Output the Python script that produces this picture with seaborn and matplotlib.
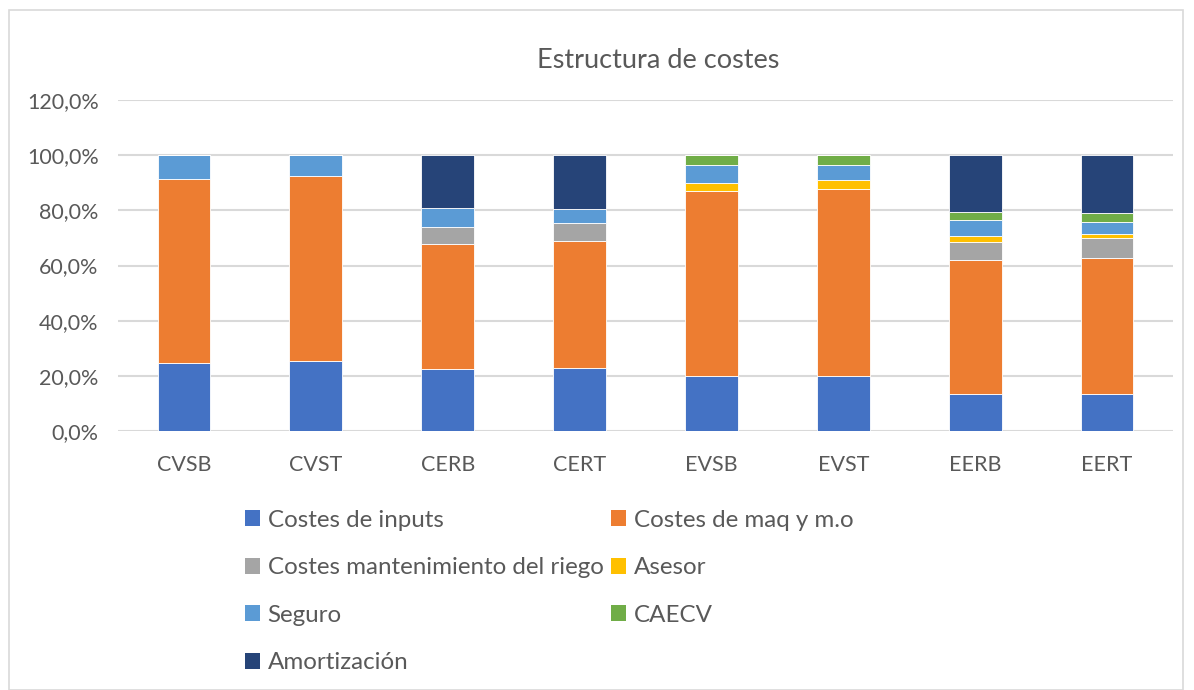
import pandas as pd
import seaborn as sns
import matplotlib.pyplot as plt
from matplotlib.patches import Patch, Rectangle
from matplotlib.ticker import FuncFormatter

categories = ["CVSB", "CVST", "CERB", "CERT", "EVSB", "EVST", "EERB", "EERT"]

costes_inputs = [24.8, 25.2, 22.4, 22.8, 19.9, 20.1, 13.5, 13.5]
costes_maq = [66.4, 67.2, 45.4, 46.1, 67.0, 67.8, 48.4, 49.3]
costes_mant = [0.0, 0.0, 6.3, 6.5, 0.0, 0.0, 6.7, 7.0]
asesor = [0.0, 0.0, 0.0, 0.0, 3.1, 3.2, 2.0, 1.8]
seguro = [8.8, 7.6, 6.9, 5.2, 6.3, 5.2, 5.9, 4.2]
caecv = [0.0, 0.0, 0.0, 0.0, 3.7, 3.7, 2.8, 3.1]
amortizacion = [0.0, 0.0, 19.0, 19.4, 0.0, 0.0, 20.7, 21.1]

series_names = ["Costes de inputs", "Costes de maq y m.o", "Costes mantenimiento del riego",
                "Asesor", "Seguro", "CAECV", "Amortización"]
series_values = [costes_inputs, costes_maq, costes_mant, asesor, seguro, caecv, amortizacion]
colors = ["#4472C4", "#ED7D31", "#A5A5A5", "#FFC000", "#5B9BD5", "#70AD47", "#264478"]

text_color = "#595959"

sns.set_theme(style="white")
plt.rcParams["font.family"] = ["Lato", "DejaVu Sans"]

fig = plt.figure(figsize=(11.94, 6.9), dpi=100)
ax = fig.add_axes([118 / 1194, 1 - 431 / 690, 1055 / 1194, 331 / 690])

# stacked bars, one seaborn call per component
bottom = [0.0] * len(categories)
for name, vals, col in zip(series_names, series_values, colors):
    df = pd.DataFrame({"categoria": categories, "valor": vals})
    sns.barplot(data=df, x="categoria", y="valor", color=col, width=0.4,
                bottom=bottom, errorbar=None, saturation=1,
                edgecolor="white", linewidth=0.6, ax=ax)
    bottom = [b + v for b, v in zip(bottom, vals)]

ax.set_ylim(0, 120)
ax.set_xlim(-0.5, len(categories) - 0.5)
ax.set_yticks(range(0, 121, 20))
ax.yaxis.set_major_formatter(FuncFormatter(lambda v, p: f"{v:.1f}%".replace(".", ",")))
ax.yaxis.grid(True, color="#D9D9D9", linewidth=1.5)
ax.set_axisbelow(True)
for s in ax.spines.values():
    s.set_visible(False)
ax.set_xlabel("")
ax.set_ylabel("")
ax.tick_params(axis="both", length=0, labelsize=15.5, colors=text_color)
ax.tick_params(axis="x", pad=17)
ax.tick_params(axis="y", pad=14)

fig.text(658 / 1194, 1 - 61 / 690, "Estructura de costes", ha="center", va="center",
         fontsize=19.5, color=text_color)

# legend: column-major order so rows read inputs/maq, mant/asesor, ...
order = [0, 2, 4, 6, 1, 3, 5]
handles = [Patch(facecolor=colors[i], edgecolor="none") for i in order]
labels = [series_names[i] for i in order]
fig.legend(handles, labels, loc="upper left", bbox_to_anchor=(235 / 1194, 1 - 500 / 690),
           ncol=2, frameon=False, fontsize=17.4, labelcolor=text_color,
           handlelength=0.65, handleheight=0.65, handletextpad=0.3,
           columnspacing=0.3, labelspacing=1.1, borderaxespad=0)

# outer chart border
fig.patches.append(Rectangle((9 / 1194, 0), 1174 / 1194, 1 - 10 / 690,
                             transform=fig.transFigure, fill=False,
                             edgecolor="#D9D9D9", linewidth=1.2))

fig.savefig("out.png", dpi=100)
